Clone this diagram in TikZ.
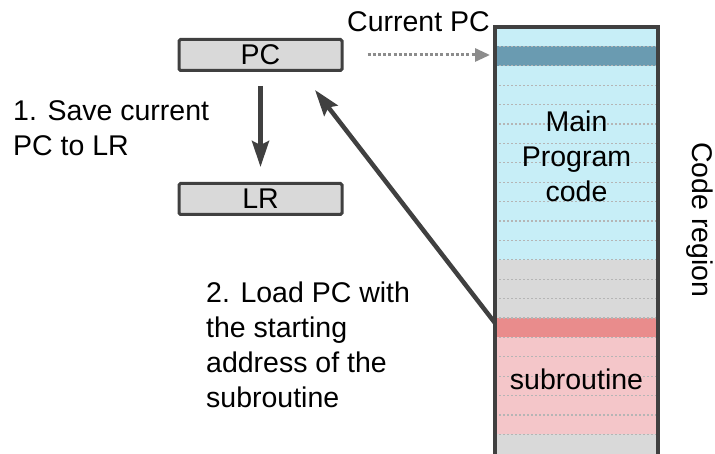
\documentclass[tikz,border=0pt]{standalone}
\usepackage{fontspec}
\setmainfont{Liberation Sans}
\usepackage{xcolor}
\usetikzlibrary{positioning, arrows.meta}

\definecolor{cb}{HTML}{C7EEF7}
\definecolor{pcb}{HTML}{6A9BB1}
\definecolor{gr}{HTML}{D9D9D9}
\definecolor{rd}{HTML}{E98C8C}
\definecolor{pk}{HTML}{F4C6C9}
\definecolor{edge}{HTML}{404040}
\definecolor{dotgray}{HTML}{B5B5B5}
\definecolor{ptrgray}{HTML}{8C8C8C}

\tikzstyle{reg} = [draw=edge, line width=3pt, rounded corners=1.5pt, fill=gr, minimum width=163pt, minimum height=31pt, inner sep=0pt]
\tikzstyle{memrow} = [draw=none, minimum width=163pt, minimum height=19.4pt, inner sep=0pt, outer sep=0pt]
\tikzstyle{rowline} = [dotgray, line width=1.3pt, dash pattern=on 2pt off 2pt]
\tikzstyle{txt} = [inner sep=0pt, font=\fontsize{28.5}{35}\selectfont]
\tikzstyle{myarrow} = [edge, line width=4.5pt, -{Stealth[length=26pt, width=17pt, inset=4pt]}]
\tikzstyle{ptrarrow} = [ptrgray, line width=3pt, dash pattern=on 3pt off 2.2pt, -{Triangle[length=15pt, width=13pt]}]

\begin{document}
\begin{tikzpicture}[x=1pt, y=-1pt, node distance=144pt]
	\useasboundingbox (0,0) rectangle (715,454);
	
	% registers
	\node[reg, txt] (pc) at (260.5,55) {PC};
	\node[reg, txt, below of=pc] (lr) {LR};
	
	% code region rows
	\foreach \c [count=\i from 0] in {cb,pcb,cb,cb,cb,cb,cb,cb,cb,cb,cb,cb,gr,gr,gr,rd,pk,pk,pk,pk,pk,gr}
		\node[memrow, fill=\c] (row\i) at (576.5,36.7+19.4*\i) {};
	\foreach \i in {0,...,20}
		\draw[rowline] (row\i.south west) -- (row\i.south east);
	\draw[edge, line width=3.5pt] (row21.south west) -- (row0.north west) -- (row0.north east) -- (row21.south east);
	
	% labels
	\node[txt, align=center] (main) at (576.5,156) {Main\\Program\\code};
	\node[txt] (sub) at (576.5,379) {subroutine};
	\node[txt, anchor=base west] (curpc) at (347,32) {Current PC};
	\node[txt, rotate=-90] (region) at (700,220) {Code region};
	\node[txt, align=left, anchor=west] (step1) at (13,128) {1. Save current\\PC to LR};
	\node[txt, align=left, anchor=west] (step2) at (206,345) {2. Load PC with\\the starting\\address of the\\subroutine};
	
	% connections
	\coordinate (retpc) at (315,90);
	\draw [myarrow, shorten <=14pt, shorten >=15pt] (pc) -- (lr);
	\draw [ptrarrow, shorten <=24pt, shorten >=5pt] (pc.east) -- (pc.east -| row1.west);
	\draw [myarrow] ([yshift=-5pt]row15.north west) -- (retpc);
	
\end{tikzpicture}
\end{document}
